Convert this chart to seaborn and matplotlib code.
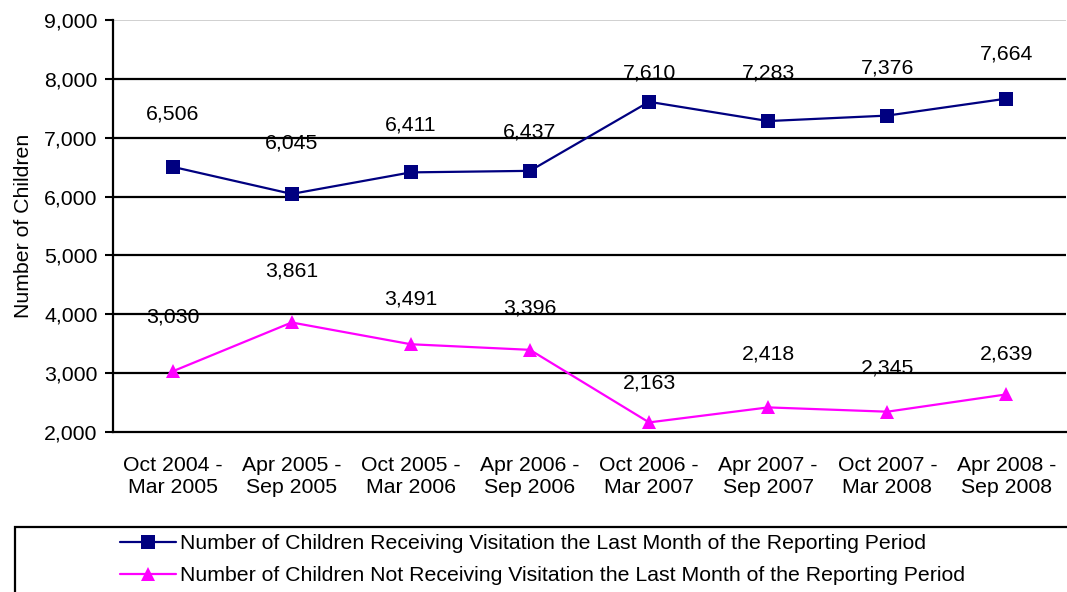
import matplotlib
matplotlib.use("Agg")
import matplotlib.pyplot as plt
import seaborn as sns
import pandas as pd
import numpy as np
from matplotlib.patches import Rectangle

periods = ["Oct 2004 -\nMar 2005", "Apr 2005 -\nSep 2005", "Oct 2005 -\nMar 2006",
           "Apr 2006 -\nSep 2006", "Oct 2006 -\nMar 2007", "Apr 2007 -\nSep 2007",
           "Oct 2007 -\nMar 2008", "Apr 2008 -\nSep 2008"]
receiving = [6506, 6045, 6411, 6437, 7610, 7283, 7376, 7664]
not_receiving = [3030, 3861, 3491, 3396, 2163, 2418, 2345, 2639]
series_names = ["Number of Children Receiving Visitation the Last Month of the Reporting Period",
                "Number of Children Not Receiving Visitation the Last Month of the Reporting Period"]
y_ticks = [2000, 3000, 4000, 5000, 6000, 7000, 8000, 9000]

# label offsets (pixels above point) - layout only
off_recv = [53, 51, 47, 39, 29, 48, 48, 45]
off_not = [54, 51, 45, 42, 39, 53, 44, 40]

sns.set_theme(style="white")
plt.rcParams['font.family'] = ['Liberation Sans', 'DejaVu Sans']
plt.rcParams.update({"text.color": "black", "axes.labelcolor": "black",
                     "xtick.color": "black", "ytick.color": "black"})

FS = 15.3

df = pd.DataFrame({
    "x": list(range(len(periods))) * 2,
    "value": receiving + not_receiving,
    "series": [series_names[0]] * len(periods) + [series_names[1]] * len(periods),
})

W, H = 1067, 592
fig = plt.figure(figsize=(W / 100, H / 100), dpi=100)
ax = fig.add_axes([113 / W, 1 - 432 / H, (1066 - 113) / W, (432 - 20) / H])

colors = {series_names[0]: "#000080", series_names[1]: "#FF00FF"}
markers = {series_names[0]: "s", series_names[1]: "^"}
sns.lineplot(data=df, x="x", y="value", hue="series", style="series",
             palette=colors, markers=markers, dashes=False, ax=ax,
             linewidth=1.6, markersize=10.5, markeredgewidth=0, legend=False)

ax.set_xlim(-0.5, len(periods) - 0.5)
ax.set_ylim(2000, 9000)
ax.set_yticks(y_ticks)
ax.set_yticklabels([f"{v:,}" for v in y_ticks])
ax.set_xticks(range(len(periods)))
ax.set_xticklabels(periods, linespacing=1.2)
ax.set_xticks(np.arange(-0.5, len(periods), 1.0), minor=True)
ax.tick_params(axis="x", which="major", length=0, pad=17, labelsize=FS)
ax.tick_params(axis="x", which="minor", length=6, width=1.5, direction="out", color="black")
ax.tick_params(axis="y", length=6, width=1.5, direction="out", color="black", labelsize=FS, left=True, pad=5)
ax.set_xlabel("")
ax.set_ylabel("Number of Children", fontsize=FS, labelpad=8)

for v in y_ticks[1:-1]:
    ax.axhline(v, color="black", linewidth=1.6, zorder=0)
ax.axhline(9000, color="#c8c8c8", linewidth=1.2, zorder=0)

for s in ["top", "right"]:
    ax.spines[s].set_visible(False)
ax.spines["left"].set_color("black")
ax.spines["left"].set_linewidth(1.6)
ax.spines["bottom"].set_color("black")
ax.spines["bottom"].set_linewidth(1.6)

px2pt = 72 / 100
for i, v in enumerate(receiving):
    ax.annotate(f"{v:,}", (i, v), xytext=(0, off_recv[i] * px2pt), textcoords="offset points",
                ha="center", va="center", fontsize=FS, color="black")
for i, v in enumerate(not_receiving):
    ax.annotate(f"{v:,}", (i, v), xytext=(0, off_not[i] * px2pt), textcoords="offset points",
                ha="center", va="center", fontsize=FS, color="black")

# legend frame
fig.patches.append(Rectangle((15 / W, -0.05), 1.1, 1 - 527 / H + 0.05, transform=fig.transFigure,
                             fill=False, edgecolor="black", linewidth=1.6))
handles = [plt.Line2D([], [], color="#000080", marker="s", markersize=10.5, linewidth=1.6, markeredgewidth=0),
           plt.Line2D([], [], color="#FF00FF", marker="^", markersize=10.5, linewidth=1.6, markeredgewidth=0)]
fig.legend(handles, series_names, loc="upper left", bbox_to_anchor=(116 / W, 1 - 530 / H),
           frameon=False, fontsize=FS, handlelength=2.6, handletextpad=0.23, labelspacing=0.62,
           borderaxespad=0, borderpad=0.2)

fig.savefig("out.png", dpi=100)
